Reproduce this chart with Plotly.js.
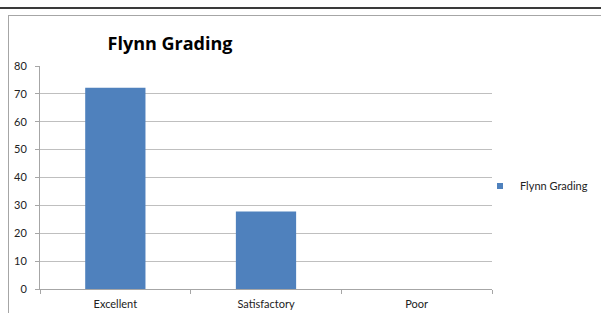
<!DOCTYPE html>
<html>
<head>
<meta charset="utf-8">
<script src="https://cdn.plot.ly/plotly-3.0.1.min.js"></script>
<style>
html,body{margin:0;padding:0;background:#fff;}
#wrap{position:relative;width:601px;height:313px;overflow:hidden;}
#chart{position:absolute;left:0;top:0;width:601px;height:313px;}
#topline{position:absolute;left:0;top:7px;width:601px;height:2px;background:#3a3a3a;pointer-events:none;}
#box{position:absolute;left:8px;top:15px;width:700px;height:400px;border-top:1px solid #a6a6a6;border-left:1px solid #a6a6a6;pointer-events:none;}
</style>
</head>
<body>
<div id="wrap">
<div id="chart"></div>
<div id="topline"></div>
<div id="box"></div>
</div>
<script>
const categories = ["Excellent", "Satisfactory", "Poor"];
const values = [72.2, 27.8, 0];
const seriesName = "Flynn Grading";
const chartTitle = "Flynn Grading";
const barColor = "#4f81bd";

const data = [{
  type: "bar",
  x: categories,
  y: values,
  name: seriesName,
  marker: {color: barColor},
  showlegend: false
}, {
  type: "scatter",
  mode: "markers",
  x: [null],
  y: [null],
  name: seriesName,
  marker: {color: barColor, symbol: "square", size: 6},
  showlegend: true
}];

const layout = {
  width: 601, height: 313,
  margin: {l: 40, r: 109, t: 66, b: 24, autoexpand: false},
  paper_bgcolor: "rgba(0,0,0,0)",
  plot_bgcolor: "#fff",
  bargap: 0.6,
  font: {family: "Lato, Open Sans, sans-serif", size: 11, color: "#222"},
  title: {
    text: "<b>" + chartTitle + "</b>",
    font: {family: "Open Sans, Noto Sans, sans-serif", size: 18, color: "#000"},
    x: 170/601, xanchor: "center", y: 1 - 44/313, yanchor: "middle"
  },
  xaxis: {
    type: "category",
    showline: true, linecolor: "#a6a6a6", linewidth: 1,
    ticks: "outside", tickson: "boundaries", ticklen: 4, tickcolor: "#a6a6a6",
    ticklabelstandoff: 5,
    showgrid: false, zeroline: false,
    tickfont: {size: 11, color: "#222"}
  },
  yaxis: {
    range: [0, 80], dtick: 10, tick0: 0,
    showline: true, linecolor: "#a6a6a6", linewidth: 1,
    ticks: "outside", ticklen: 4, tickcolor: "#a6a6a6",
    ticklabelstandoff: 6,
    showgrid: true, gridcolor: "#bfbfbf", gridwidth: 1,
    zeroline: false,
    tickfont: {size: 11, color: "#222"}
  },
  legend: {
    xref: "container", yref: "container",
    x: 480/601, xanchor: "left", y: 1 - 186/313, yanchor: "middle",
    font: {size: 11, color: "#222"},
    itemwidth: 30, bgcolor: "rgba(0,0,0,0)"
  }
};

Plotly.newPlot("chart", data, layout, {displayModeBar: false, staticPlot: true});
</script>
</body>
</html>
